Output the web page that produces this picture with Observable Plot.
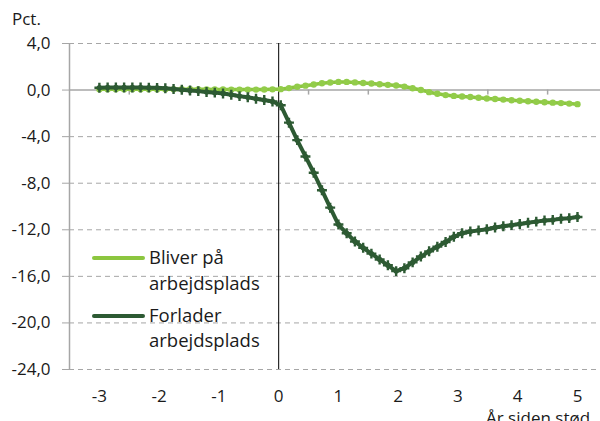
<!DOCTYPE html>
<html>
<head>
<meta charset="utf-8">
<script src="https://cdn.jsdelivr.net/npm/d3@7"></script>
<script src="https://cdn.jsdelivr.net/npm/@observablehq/plot@0.6"></script>
<style>
  body { margin: 0; background: #fff; }
  #wrap { position: relative; width: 600px; height: 421px; overflow: hidden; font-family: "Open Sans", sans-serif; color: #1a1a1a; }
  .lbl { position: absolute; font-size: 17px; line-height: 26px; white-space: nowrap; }
  .leg { font-size: 18.5px; }
  .sw { position: absolute; height: 4px; border-radius: 2px; }
</style>
</head>
<body>
<div id="wrap"></div>
<script>
// Sampling points (years since shock)
const years = d3.range(59).map(i => -3 + i * 8 / 58);

// Bliver på arbejdsplads
const bliver = [
  0.08, 0.08, 0.08, 0.08, 0.08, 0.08, 0.08, 0.08, 0.08, 0.07,
  0.07, 0.07, 0.06, 0.06, 0.05, 0.05, 0.04, 0.04, 0.04, 0.04,
  0.05, 0.06, 0.08, 0.17, 0.28, 0.38, 0.48, 0.58, 0.65, 0.70,
  0.70, 0.66, 0.61, 0.56, 0.50, 0.45, 0.39, 0.30, 0.16, 0.00,
  -0.18, -0.32, -0.43, -0.50, -0.55, -0.60, -0.66, -0.72, -0.77, -0.82,
  -0.87, -0.92, -0.96, -1.00, -1.04, -1.08, -1.12, -1.16, -1.21
];

// Forlader arbejdsplads
const forlader = [
  0.20, 0.22, 0.22, 0.22, 0.22, 0.22, 0.21, 0.19, 0.15, 0.10,
  0.03, -0.03, -0.09, -0.16, -0.22, -0.30, -0.40, -0.52, -0.62, -0.74,
  -0.86, -0.98, -1.30, -2.80, -4.30, -5.70, -7.10, -8.60, -10.10, -11.55,
  -12.30, -13.00, -13.55, -14.05, -14.55, -15.05, -15.55, -15.30, -14.80, -14.30,
  -13.85, -13.45, -13.05, -12.60, -12.30, -12.15, -12.05, -11.95, -11.80, -11.70,
  -11.60, -11.50, -11.40, -11.30, -11.20, -11.15, -11.05, -11.00, -10.90
];

const colors = ["#8cc63f", "#2d5a33"];
const xTicks = [-3, -2, -1, 0, 1, 2, 3, 4, 5];
const xBounds = [-2.5, -1.5, -0.5, 0.5, 1.5, 2.5, 3.5, 4.5];
const yTicks = [4, 0, -4, -8, -12, -16, -20, -24];
const yUnit = "Pct.";
const xTitle = "År siden stød";
const legend1 = ["Bliver på", "arbejdsplads"];
const legend2 = ["Forlader", "arbejdsplads"];

const dataB = years.map((x, i) => ({x, y: bliver[i]}));
const dataF = years.map((x, i) => ({x, y: forlader[i]}));

const fmt = d => d.toFixed(1).replace(".", ",");

const chart = Plot.plot({
  width: 600,
  height: 421,
  marginTop: 43,
  marginBottom: 52,
  marginLeft: 69,
  marginRight: 0,
  style: {fontFamily: "Open Sans, sans-serif", fontSize: "17px", color: "#1a1a1a", background: "white"},
  x: {domain: [-3.5, 5.385]},
  y: {domain: [-24, 4]},
  marks: [
    Plot.ruleY(yTicks.filter(d => d !== 0), {stroke: "#a6a6a6", strokeDasharray: "5,4", strokeWidth: 1}),
    Plot.ruleY([0], {stroke: "#a6a6a6", strokeWidth: 1.5}),
    Plot.ruleX(xBounds, {y1: 0, y2: 0, insetBottom: -5, stroke: "#a6a6a6", strokeWidth: 1.5}),
    Plot.ruleX([-3.5], {y1: -24, y2: 4, stroke: "#a6a6a6", strokeWidth: 1.5}),
    Plot.ruleX([0], {y1: -24, y2: 4, stroke: "#000", strokeWidth: 1}),
    Plot.axisY({ticks: yTicks, tickFormat: fmt, tickSize: 7, tickPadding: 12, stroke: "#a6a6a6", fill: "#1a1a1a", label: null}),
    Plot.axisX({ticks: xTicks, tickFormat: d => String(d), tickSize: 0, tickPadding: 20, fill: "#1a1a1a", label: null}),
    Plot.line(dataB, {x: "x", y: "y", stroke: colors[0], strokeWidth: 3.5}),
    Plot.dot(dataB, {x: "x", y: "y", fill: "#92cc4a", r: 3.2}),
    Plot.line(dataF, {x: "x", y: "y", stroke: colors[1], strokeWidth: 4}),
    Plot.dot(dataF, {x: "x", y: "y", fill: colors[1], r: 2.7}),
    Plot.dot(dataF, {x: "x", y: "y", symbol: "plus", stroke: colors[1], strokeWidth: 2.4, r: 3.3})
  ]
});

const wrap = document.getElementById("wrap");
wrap.appendChild(chart);
chart.style.position = "absolute";
chart.style.left = "0";
chart.style.top = "0";

function addLabel(text, left, top, cls) {
  const d = document.createElement("div");
  d.className = "lbl" + (cls ? " " + cls : "");
  d.textContent = text;
  d.style.left = left + "px";
  d.style.top = top + "px";
  wrap.appendChild(d);
}
function addSwatch(color, left, top) {
  const s = document.createElement("div");
  s.className = "sw";
  s.style.background = color;
  s.style.left = left + "px";
  s.style.top = top + "px";
  s.style.width = "53px";
  wrap.appendChild(s);
}

addLabel(yUnit, 12, 6);
addLabel(xTitle, 486, 405);

addSwatch(colors[0], 92, 256);
addLabel(legend1[0], 149, 244, "leg");
addLabel(legend1[1], 149, 270, "leg");
addSwatch(colors[1], 92, 314);
addLabel(legend2[0], 149, 302, "leg");
addLabel(legend2[1], 149, 327, "leg");
</script>
</body>
</html>
